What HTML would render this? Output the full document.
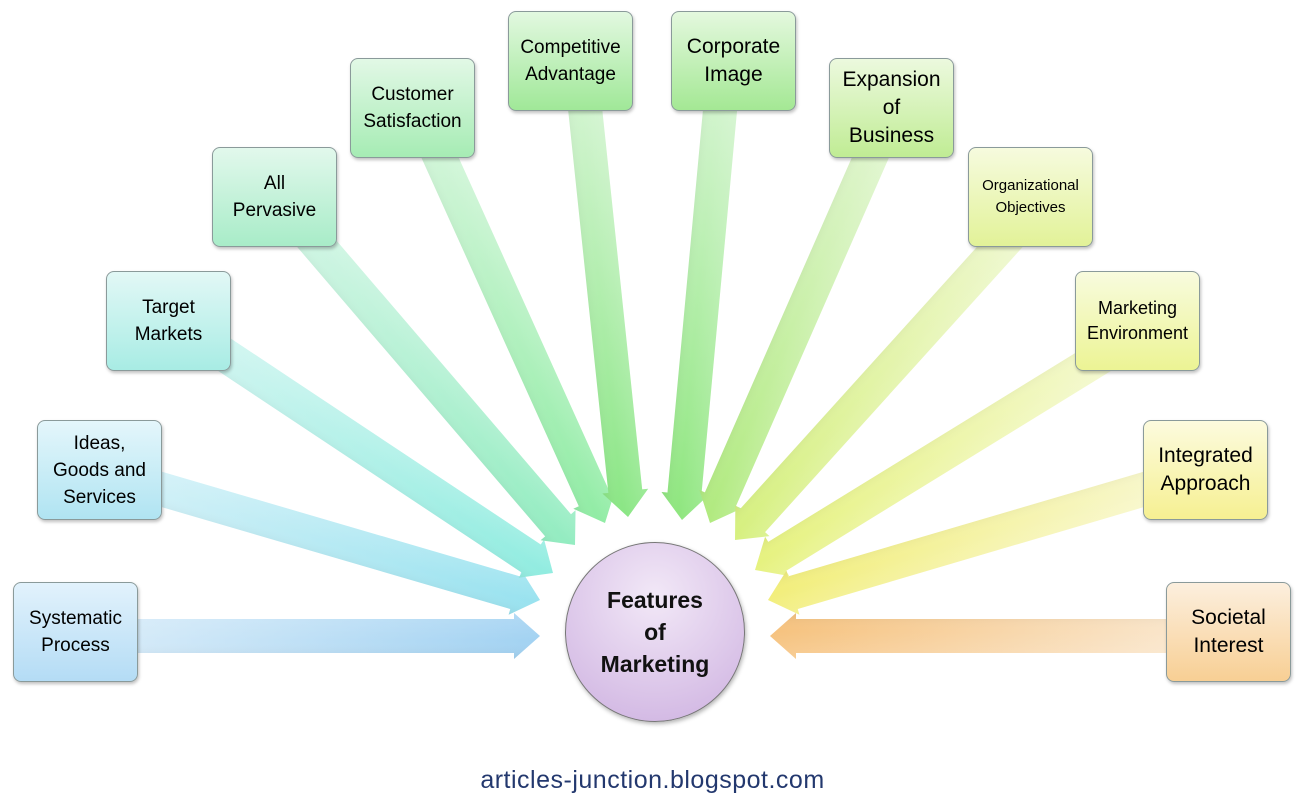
<!DOCTYPE html>
<html><head><meta charset="utf-8">
<style>
html,body{margin:0;padding:0;background:#fff;}
body{width:1305px;height:809px;position:relative;overflow:hidden;font-family:"Liberation Sans",sans-serif;}
.b{position:absolute;width:125px;height:100px;border:1px solid #8a9a9a;border-radius:8px;box-sizing:border-box;display:flex;align-items:center;justify-content:center;text-align:center;font-size:19px;line-height:27px;color:#000;box-shadow:1px 2px 3px rgba(0,0,0,.25);}
.c{position:absolute;left:565px;top:542px;width:180px;height:180px;border-radius:50%;border:1px solid #777;box-sizing:border-box;background:radial-gradient(circle at 50% 30%,#f2e8f7,#cdb0e0);display:flex;align-items:center;justify-content:center;text-align:center;font-weight:bold;font-size:23px;line-height:32px;color:#111;box-shadow:1px 2px 4px rgba(0,0,0,.3);}
.f{position:absolute;left:0;width:1305px;top:766px;text-align:center;font-size:25px;color:#23386e;letter-spacing:0.5px;}
</style></head><body>
<svg width="1305" height="809" style="position:absolute;left:0;top:0">
<defs>
<linearGradient id="g1"><stop offset="0" stop-color="#d8ecf9"/><stop offset="1" stop-color="#a2d2f2"/></linearGradient>
<linearGradient id="g2"><stop offset="0" stop-color="#d6f2f8"/><stop offset="1" stop-color="#98e2ef"/></linearGradient>
<linearGradient id="g3"><stop offset="0" stop-color="#d4f6f1"/><stop offset="1" stop-color="#90ece0"/></linearGradient>
<linearGradient id="g4"><stop offset="0" stop-color="#d4f6e6"/><stop offset="1" stop-color="#92ecc0"/></linearGradient>
<linearGradient id="g5"><stop offset="0" stop-color="#d6f6dc"/><stop offset="1" stop-color="#90eca4"/></linearGradient>
<linearGradient id="g6"><stop offset="0" stop-color="#d6f5d4"/><stop offset="1" stop-color="#8ae684"/></linearGradient>
<linearGradient id="g7"><stop offset="0" stop-color="#d6f5d2"/><stop offset="1" stop-color="#8ee67e"/></linearGradient>
<linearGradient id="g8"><stop offset="0" stop-color="#e2f6d2"/><stop offset="1" stop-color="#b0ea7e"/></linearGradient>
<linearGradient id="g9"><stop offset="0" stop-color="#eff8d2"/><stop offset="1" stop-color="#d6f07e"/></linearGradient>
<linearGradient id="g10"><stop offset="0" stop-color="#f4f9d2"/><stop offset="1" stop-color="#e6f27e"/></linearGradient>
<linearGradient id="g11"><stop offset="0" stop-color="#f8f8d2"/><stop offset="1" stop-color="#f2ee7a"/></linearGradient>
<linearGradient id="g12"><stop offset="0" stop-color="#fae9d2"/><stop offset="1" stop-color="#f6c27e"/></linearGradient>
<linearGradient id="sh" x1="0" y1="0" x2="0" y2="1"><stop offset="0" stop-color="#fff" stop-opacity="0.15"/><stop offset="0.6" stop-color="#fff" stop-opacity="0"/><stop offset="1" stop-color="#000" stop-opacity="0.06"/></linearGradient>
<polygon id="a" points="-440,-17 -26,-17 -26,-23 0,0 -26,23 -26,17 -440,17"/>
</defs>
<g>
<g transform="translate(540,636) rotate(0)"><use href="#a" fill="url(#g1)"/><use href="#a" fill="url(#sh)"/></g>
<g transform="translate(540,600) rotate(16.3)"><use href="#a" fill="url(#g2)"/><use href="#a" fill="url(#sh)"/></g>
<g transform="translate(553,573) rotate(33.6)"><use href="#a" fill="url(#g3)"/><use href="#a" fill="url(#sh)"/></g>
<g transform="translate(575,545) rotate(49.4)"><use href="#a" fill="url(#g4)"/><use href="#a" fill="url(#sh)"/></g>
<g transform="translate(605,523) rotate(65.7)"><use href="#a" fill="url(#g5)"/><use href="#a" fill="url(#sh)"/></g>
<g transform="translate(628,517) rotate(84)"><use href="#a" fill="url(#g6)"/><use href="#a" fill="url(#sh)"/></g>
<g transform="translate(682,520) rotate(95.3)"><use href="#a" fill="url(#g7)"/><use href="#a" fill="url(#sh)"/></g>
<g transform="translate(710,523) rotate(113.7)"><use href="#a" fill="url(#g8)"/><use href="#a" fill="url(#sh)"/></g>
<g transform="translate(735,540) rotate(132.1)"><use href="#a" fill="url(#g9)"/><use href="#a" fill="url(#sh)"/></g>
<g transform="translate(755,570) rotate(148.4)"><use href="#a" fill="url(#g10)"/><use href="#a" fill="url(#sh)"/></g>
<g transform="translate(768,600) rotate(163.6)"><use href="#a" fill="url(#g11)"/><use href="#a" fill="url(#sh)"/></g>
<g transform="translate(770,636) rotate(180)"><use href="#a" fill="url(#g12)"/><use href="#a" fill="url(#sh)"/></g>
</g>
</svg>
<div class="b" style="left:13px;top:582px;background:linear-gradient(#e2f2fc,#b4dcf5)">Systematic<br>Process</div>
<div class="b" style="left:37px;top:420px;background:linear-gradient(#e4f6fb,#b0e4f2)">Ideas,<br>Goods and<br>Services</div>
<div class="b" style="left:106px;top:271px;background:linear-gradient(#e2f8f6,#a8ece4)">Target<br>Markets</div>
<div class="b" style="left:212px;top:147px;background:linear-gradient(#e2f8ec,#a8ecc8)">All<br>Pervasive</div>
<div class="b" style="left:350px;top:58px;background:linear-gradient(#e2f8e6,#a6ecb4)">Customer<br>Satisfaction</div>
<div class="b" style="left:508px;top:11px;background:linear-gradient(#e2f8e0,#a0e898)">Competitive<br>Advantage</div>
<div class="b" style="left:671px;top:11px;background:linear-gradient(#e4f8de,#a4e894);font-size:21px;line-height:28px">Corporate<br>Image</div>
<div class="b" style="left:829px;top:58px;background:linear-gradient(#ecf9de,#c0ec94);font-size:21px;line-height:28px">Expansion<br>of<br>Business</div>
<div class="b" style="left:968px;top:147px;background:linear-gradient(#f6fbde,#e2f298);font-size:15px;line-height:22px">Organizational<br>Objectives</div>
<div class="b" style="left:1075px;top:271px;background:linear-gradient(#f8fbde,#ecf494);font-size:18px;line-height:25px">Marketing<br>Environment</div>
<div class="b" style="left:1143px;top:420px;background:linear-gradient(#fcfbde,#f6f092);font-size:21px;line-height:28px">Integrated<br>Approach</div>
<div class="b" style="left:1166px;top:582px;background:linear-gradient(#fcefde,#f8cf94);font-size:21px;line-height:28px">Societal<br>Interest</div>
<div class="c">Features<br>of<br>Marketing</div>
<div class="f">articles-junction.blogspot.com</div>
</body></html>
